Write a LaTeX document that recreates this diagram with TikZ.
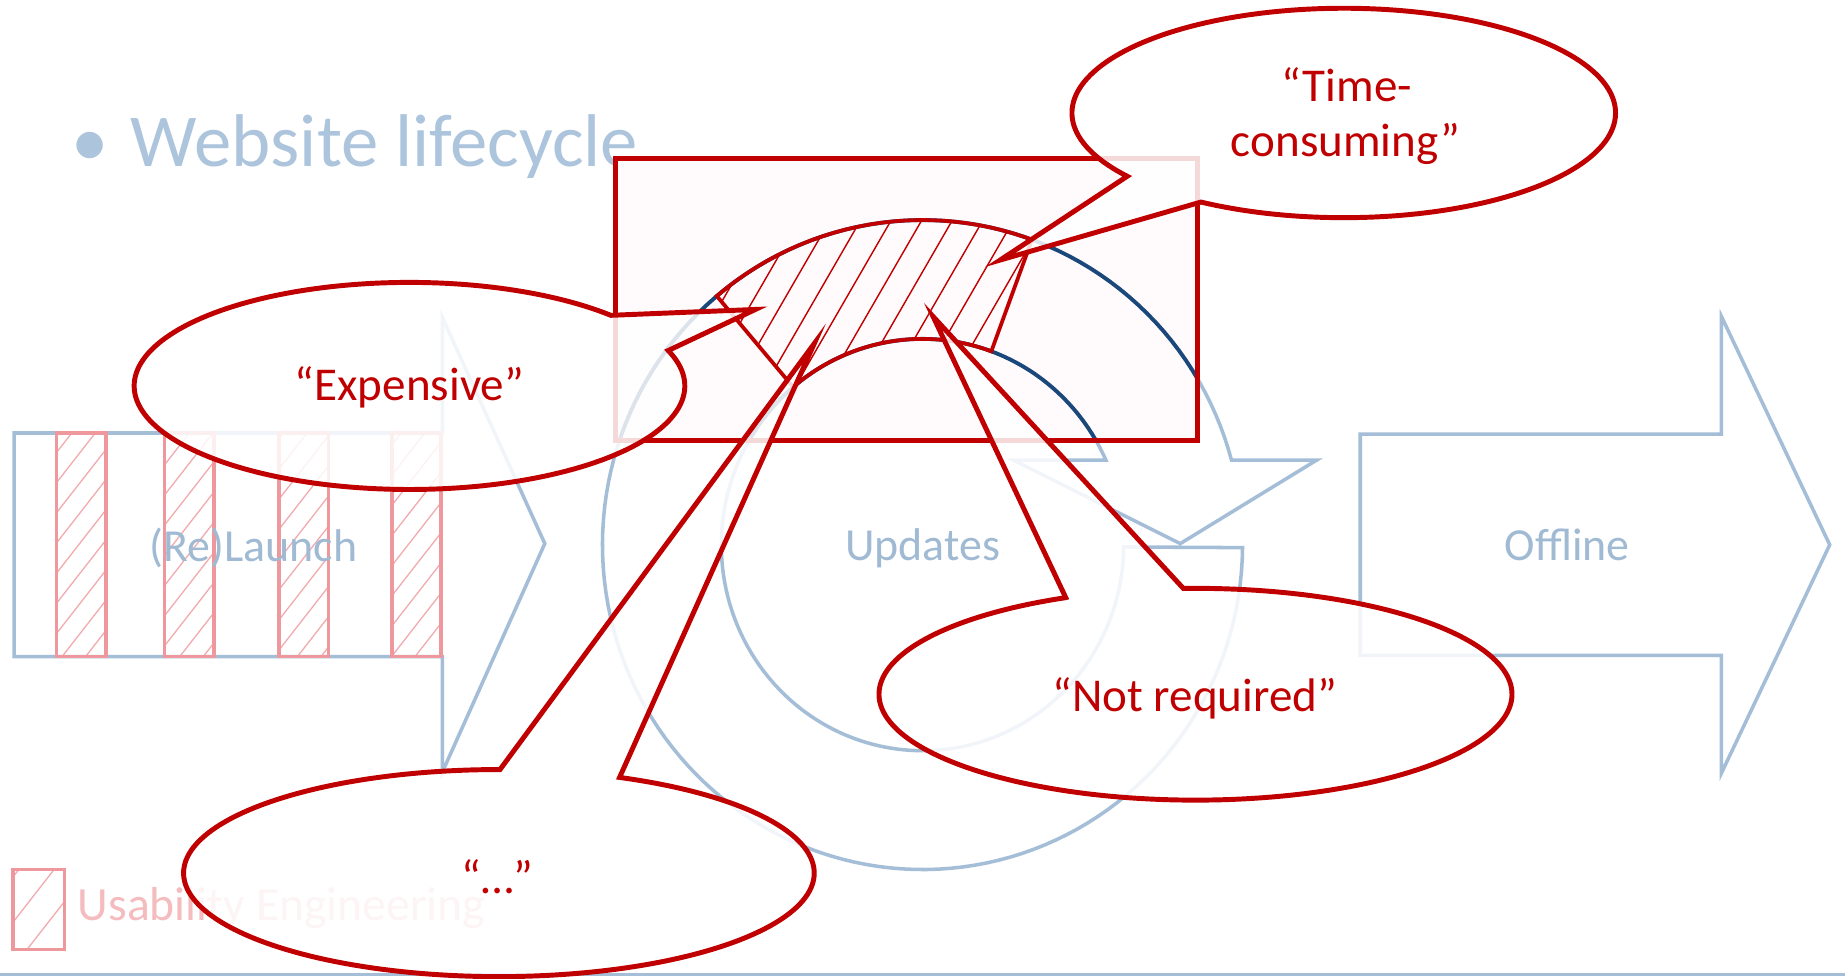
\documentclass[tikz,border=0pt]{standalone}
\usepackage{fontspec}
\setmainfont{Carlito}
\definecolor{cred}{RGB}{192,0,0}
\definecolor{cdark}{RGB}{26,72,122}
\definecolor{cfade}{RGB}{165,190,215}
\definecolor{cfadetxt}{RGB}{160,186,212}
\definecolor{ctitle}{RGB}{172,196,220}
\definecolor{cpink}{RGB}{238,152,158}
\definecolor{cpinklt}{RGB}{242,170,175}
\definecolor{cpinktxt}{RGB}{244,188,190}
\definecolor{crectfill}{RGB}{255,251,252}
\newcommand{\bandpath}{plot[domain=0.5:344.9,samples=160,variable=\t] ({784+272*cos(\t)},{463+276*sin(\t)}) -- (1119,391) -- (1003,462) -- (861,391) -- plot[domain=335.7:0.6,samples=160,variable=\t] ({784+171*cos(\t)},{463+175*sin(\t)}) -- cycle}
\newcommand{\hatchregion}{plot[domain=230:290,samples=40,variable=\t] ({784+272*cos(\t)},{463+276*sin(\t)}) -- plot[domain=290:230,samples=40,variable=\t] ({784+171*cos(\t)},{463+175*sin(\t)}) -- cycle}
\tikzset{
  fadeline/.style={draw=cfade, line width=3, line join=miter},
  pinkline/.style={draw=cpink, line width=3},
  pinkhatch/.style={draw=cpinklt, line width=1.1},
  darkline/.style={draw=cdark, line width=3.3},
  bubble/.style={draw=cred, line width=4.2, fill=white, fill opacity=0.85, line join=miter, miter limit=25},
  calltext/.style={text=cred, font=\fontsize{40}{48}\selectfont, anchor=base, inner sep=0},
  fadetext/.style={text=cfadetxt, font=\fontsize{39}{47}\selectfont, anchor=base, inner sep=0},
  titlefont/.style={font=\fontsize{63.5}{72}\selectfont, inner sep=0}
}
\begin{document}
\begin{tikzpicture}[x=1pt,y=-1pt]
\useasboundingbox (0,0) rectangle (1568,832);
\fill[white] (0,0) rectangle (1568,832);
% title
\node[titlefont, text=ctitle, anchor=base] (bullet) at (77,141.6) {•};
\node[titlefont, text=ctitle, anchor=base west] (title) at (111,141.6) {Website lifecycle};
% (Re)Launch arrow
\draw[fadeline] (12,368) -- (376,368) -- (376,270) -- (463,462) -- (376,656) -- (376,558) -- (12,558) -- cycle;
\begin{scope}
  \clip (48,368) rectangle (90,558) (140,368) rectangle (182,558) (237,368) rectangle (279,558) (333,368) rectangle (375,558);
  \foreach \k in {0,...,25} \draw[pinkhatch] ({-140+20*\k},600) -- ++(234,-300);
\end{scope}
\foreach \a in {48,140,237,333} \draw[pinkline] (\a,368) rectangle ++(42,190);
\node[fadetext] (launch) at (215.5,477) {(Re)Launch};
% Updates circular arrow
\draw[fadeline] \bandpath;
\node[fadetext] (updates) at (784,476) {Updates};
% Offline arrow
\draw[fadeline] (1156,369) -- (1463,369) -- (1463,269) -- (1555,463) -- (1463,657) -- (1463,557) -- (1156,557) -- cycle;
\node[fadetext] (offline) at (1332,476) {Offline};
% legend
\begin{scope}
  \clip (11,739) rectangle (55,807);
  \foreach \k in {0,...,3} \draw[pinkhatch] ({-55+30*\k},830) -- ++(117,-150);
\end{scope}
\draw[pinkline] (11,739) rectangle (55,807);
\node[text=cpinktxt, font=\fontsize{40.5}{48}\selectfont, anchor=base west, inner sep=0] (legend) at (66,782) {Usability Engineering};
% bottom rule
\draw[fadeline] (0,828) -- (1568,828);
% highlighted window
\fill[crectfill] (523,135) rectangle (1018,374);
\begin{scope}
  \clip (523,135) rectangle (1018,374);
  \draw[darkline] \bandpath;
\end{scope}
\begin{scope}
  \clip \hatchregion;
  \foreach \k in {0,...,14} \draw[cred, line width=1.2] ({490+26*\k},380) -- ++(115.5,-200);
\end{scope}
\draw[cred, line width=3.2, line join=miter] \hatchregion;
\draw[cred, line width=4.2] (523,135) rectangle (1018,374);
% callouts
\coordinate (tipE) at (642,263);
\coordinate (tipT) at (850,221);
\coordinate (tipN) at (793,269);
\coordinate (tipD) at (692,292);
\draw[bubble] ({348+234*cos(-43)},{328+88*sin(-43)}) -- (tipE) -- ({348+234*cos(-20)},{328+88*sin(-20)}) -- plot[domain=-20:317,samples=180,variable=\t] ({348+234*cos(\t)},{328+88*sin(\t)}) -- cycle;
\draw[bubble] ({1142+231*cos(142.8)},{96+89*sin(142.8)}) -- (tipT) -- ({1142+231*cos(121.7)},{96+89*sin(121.7)}) -- plot[domain=121.7:-217.2,samples=180,variable=\t] ({1142+231*cos(\t)},{96+89*sin(\t)}) -- cycle;
\draw[bubble] ({1016+269*cos(-114.2)},{590+90*sin(-114.2)}) -- (tipN) -- ({1016+269*cos(-92.2)},{590+90*sin(-92.2)}) -- plot[domain=-92.2:245.8,samples=180,variable=\t] ({1016+269*cos(\t)},{590+90*sin(\t)}) -- cycle;
\draw[bubble] ({424+268*cos(-89.8)},{742+88*sin(-89.8)}) -- (tipD) -- ({424+268*cos(-67.5)},{742+88*sin(-67.5)}) -- plot[domain=-67.5:270.2,samples=180,variable=\t] ({424+268*cos(\t)},{742+88*sin(\t)}) -- cycle;
\node[calltext] (expensive) at (348,340) {“Expensive”};
\node[calltext] (time1) at (1144.5,86.4) {“Time-};
\node[calltext] (time2) at (1143.5,133) {consuming”};
\node[calltext] (notreq) at (1015.5,605) {“Not required”};
\node[calltext] (dots) at (422.7,759) {“…”};
\end{tikzpicture}
\end{document}
